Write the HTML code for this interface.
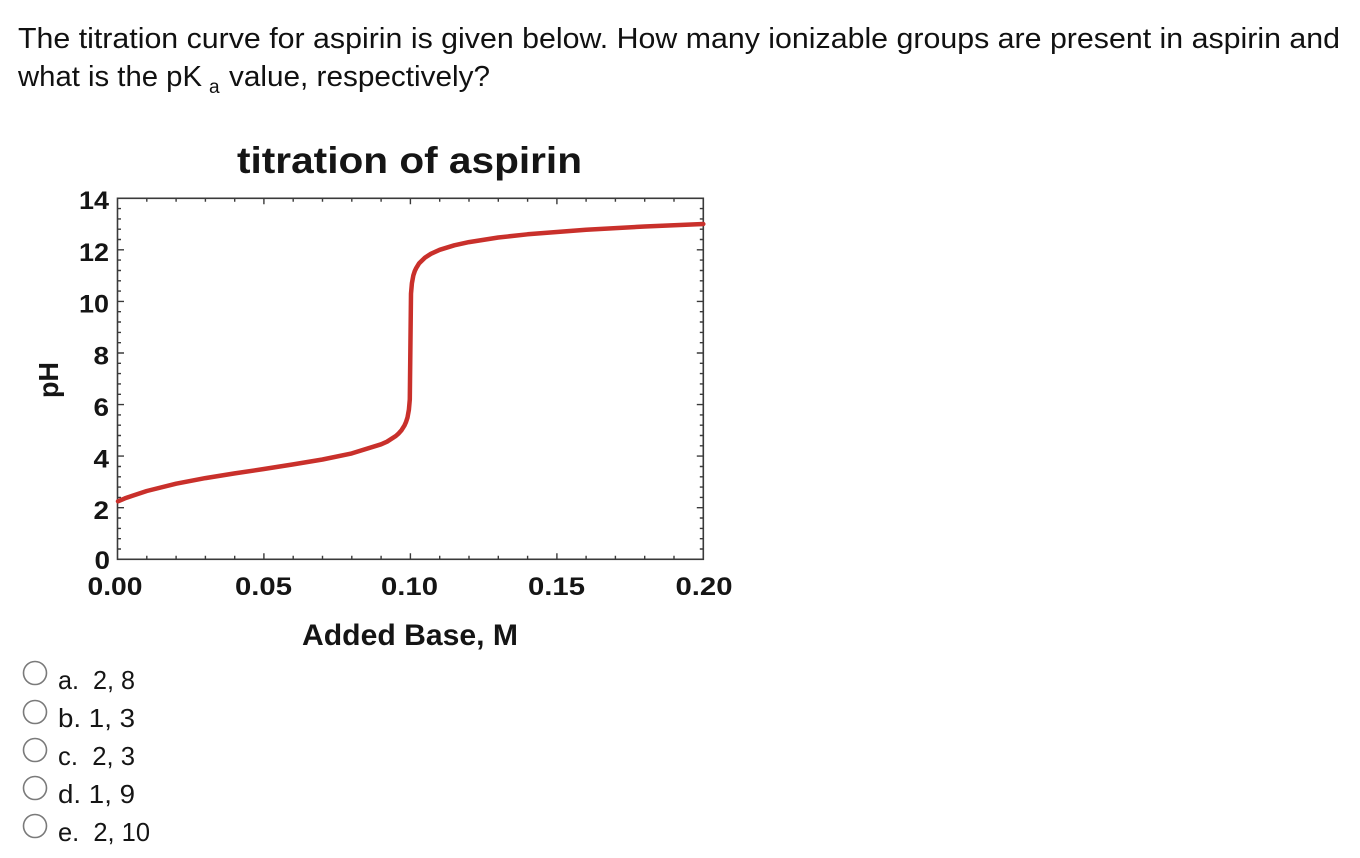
<!DOCTYPE html>
<html>
<head>
<meta charset="utf-8">
<style>
  html, body { margin:0; padding:0; background:#ffffff; }
  body { width:1360px; height:858px; overflow:hidden; }
  svg { display:block; }
</style>
</head>
<body>
<svg width="1360" height="858" viewBox="0 0 1360 858" xmlns="http://www.w3.org/2000/svg">
  <rect x="0" y="0" width="1360" height="858" fill="#ffffff"/>

  <!-- Question text -->
  <g font-family="'Liberation Sans', sans-serif" fill="#111">
    <text x="18" y="48" font-size="29" textLength="1322" lengthAdjust="spacingAndGlyphs">The titration curve for aspirin is given below. How many ionizable groups are present in aspirin and</text>
    <text x="18" y="86" font-size="29" textLength="184" lengthAdjust="spacingAndGlyphs">what is the pK</text>
    <text x="209" y="93" font-size="19">a</text>
    <text x="229" y="86" font-size="29" textLength="261" lengthAdjust="spacingAndGlyphs">value, respectively?</text>
  </g>

  <!-- Chart title -->
  <text x="237" y="173" font-family="'Liberation Sans', sans-serif" font-weight="bold" font-size="37" fill="#151515" textLength="345" lengthAdjust="spacingAndGlyphs">titration of aspirin</text>

  <!-- Frame -->
  <rect x="117.5" y="198.3" width="585.8" height="361" fill="none" stroke="#3a3a3a" stroke-width="1.6"/>

  <!-- Ticks -->
  <g stroke="#3a3a3a" stroke-width="1.4" fill="none">
    <path d="M263.9 559.3v-6M410.4 559.3v-6M556.9 559.3v-6"/>
    <path d="M146.8 559.3v-3.5M176.1 559.3v-3.5M205.4 559.3v-3.5M234.7 559.3v-3.5M293.2 559.3v-3.5M322.5 559.3v-3.5M351.8 559.3v-3.5M381.1 559.3v-3.5M439.7 559.3v-3.5M469.0 559.3v-3.5M498.3 559.3v-3.5M527.6 559.3v-3.5M586.1 559.3v-3.5M615.4 559.3v-3.5M644.7 559.3v-3.5M674.0 559.3v-3.5"/>
    <path d="M263.9 198.3v6M410.4 198.3v6M556.9 198.3v6"/>
    <path d="M146.8 198.3v3.5M176.1 198.3v3.5M205.4 198.3v3.5M234.7 198.3v3.5M293.2 198.3v3.5M322.5 198.3v3.5M351.8 198.3v3.5M381.1 198.3v3.5M439.7 198.3v3.5M469.0 198.3v3.5M498.3 198.3v3.5M527.6 198.3v3.5M586.1 198.3v3.5M615.4 198.3v3.5M644.7 198.3v3.5M674.0 198.3v3.5"/>
    <path d="M117.5 507.7h6.5M117.5 456.1h6.5M117.5 404.6h6.5M117.5 353.0h6.5M117.5 301.4h6.5M117.5 249.8h6.5"/>
    <path d="M117.5 549.0h3.5M117.5 538.7h3.5M117.5 528.4h3.5M117.5 518.0h3.5M117.5 497.4h3.5M117.5 487.1h3.5M117.5 476.8h3.5M117.5 466.5h3.5M117.5 445.8h3.5M117.5 435.5h3.5M117.5 425.2h3.5M117.5 414.9h3.5M117.5 394.3h3.5M117.5 383.9h3.5M117.5 373.6h3.5M117.5 363.3h3.5M117.5 342.7h3.5M117.5 332.4h3.5M117.5 322.0h3.5M117.5 311.7h3.5M117.5 291.1h3.5M117.5 280.8h3.5M117.5 270.5h3.5M117.5 260.1h3.5M117.5 239.5h3.5M117.5 229.2h3.5M117.5 218.9h3.5M117.5 208.6h3.5"/>
    <path d="M703.3 507.7h-6.5M703.3 456.1h-6.5M703.3 404.6h-6.5M703.3 353.0h-6.5M703.3 301.4h-6.5M703.3 249.8h-6.5"/>
    <path d="M703.3 549.0h-3.5M703.3 538.7h-3.5M703.3 528.4h-3.5M703.3 518.0h-3.5M703.3 497.4h-3.5M703.3 487.1h-3.5M703.3 476.8h-3.5M703.3 466.5h-3.5M703.3 445.8h-3.5M703.3 435.5h-3.5M703.3 425.2h-3.5M703.3 414.9h-3.5M703.3 394.3h-3.5M703.3 383.9h-3.5M703.3 373.6h-3.5M703.3 363.3h-3.5M703.3 342.7h-3.5M703.3 332.4h-3.5M703.3 322.0h-3.5M703.3 311.7h-3.5M703.3 291.1h-3.5M703.3 280.8h-3.5M703.3 270.5h-3.5M703.3 260.1h-3.5M703.3 239.5h-3.5M703.3 229.2h-3.5M703.3 218.9h-3.5M703.3 208.6h-3.5"/>
  </g>

  <!-- Curve -->
  <polyline fill="none" stroke="#c9302b" stroke-width="4.5" stroke-linejoin="round" stroke-linecap="round"
    points="118,501.3 124.8,498.4 132.1,495.9 146.8,491.0 176.1,483.7 205.4,478.1 234.7,473.4 263.9,469.0 293.2,464.4 322.5,459.5 351.8,453.4 381.1,444.3 387.0,441.7 395.8,436.0 398.7,433.4 401.6,430.1 404.5,425.4 406.0,422.1 407.5,417.5 408.9,409.7 409.8,399.4 410.4,346.5 411.0,293.7 411.9,283.3 413.3,275.6 414.8,271.0 416.3,267.9 419.2,263.2 425.0,257.6 430.9,253.8 439.7,249.8 454.3,245.3 469.0,242.1 498.3,237.5 527.6,234.3 586.1,229.7 644.7,226.5 703.3,224.0"/>

  <!-- Y tick labels -->
  <g font-family="'Liberation Sans', sans-serif" font-weight="bold" font-size="25" fill="#151515" text-anchor="end">
    <text x="109" y="209" textLength="30" lengthAdjust="spacingAndGlyphs">14</text>
    <text x="109" y="261" textLength="30" lengthAdjust="spacingAndGlyphs">12</text>
    <text x="109" y="312.5" textLength="30" lengthAdjust="spacingAndGlyphs">10</text>
    <text x="109" y="364.5" textLength="15.5" lengthAdjust="spacingAndGlyphs">8</text>
    <text x="109" y="416" textLength="15.5" lengthAdjust="spacingAndGlyphs">6</text>
    <text x="109" y="467.5" textLength="15.5" lengthAdjust="spacingAndGlyphs">4</text>
    <text x="109" y="519" textLength="15.5" lengthAdjust="spacingAndGlyphs">2</text>
    <text x="110" y="569" textLength="15.5" lengthAdjust="spacingAndGlyphs">0</text>
  </g>

  <!-- X tick labels -->
  <g font-family="'Liberation Sans', sans-serif" font-weight="bold" font-size="25" fill="#151515" text-anchor="middle">
    <text x="115" y="595" textLength="55" lengthAdjust="spacingAndGlyphs">0.00</text>
    <text x="263.5" y="595" textLength="57" lengthAdjust="spacingAndGlyphs">0.05</text>
    <text x="409.5" y="595" textLength="57" lengthAdjust="spacingAndGlyphs">0.10</text>
    <text x="556.5" y="595" textLength="57" lengthAdjust="spacingAndGlyphs">0.15</text>
    <text x="704" y="595" textLength="57" lengthAdjust="spacingAndGlyphs">0.20</text>
  </g>

  <!-- Axis titles -->
  <text x="302" y="645" font-family="'Liberation Sans', sans-serif" font-weight="bold" font-size="30" fill="#151515" textLength="216" lengthAdjust="spacingAndGlyphs">Added Base, M</text>
  <text transform="translate(58,380) rotate(-90)" x="0" y="0" text-anchor="middle" font-family="'Liberation Sans', sans-serif" font-weight="bold" font-size="28" fill="#151515" textLength="36" lengthAdjust="spacingAndGlyphs">pH</text>

  <!-- Options -->
  <g fill="#ffffff" stroke="#7a7a7a" stroke-width="1.6">
    <circle cx="35" cy="673" r="11.5"/>
    <circle cx="35" cy="712" r="11.5"/>
    <circle cx="35" cy="750" r="11.5"/>
    <circle cx="35" cy="788" r="11.5"/>
    <circle cx="35" cy="826" r="11.5"/>
  </g>
  <g font-family="'Liberation Sans', sans-serif" font-size="26" fill="#151515">
    <text x="58" y="689" textLength="77" lengthAdjust="spacingAndGlyphs">a.&#160; 2, 8</text>
    <text x="58" y="727" textLength="77" lengthAdjust="spacingAndGlyphs">b. 1, 3</text>
    <text x="58" y="765" textLength="77" lengthAdjust="spacingAndGlyphs">c.&#160; 2, 3</text>
    <text x="58" y="803" textLength="77" lengthAdjust="spacingAndGlyphs">d. 1, 9</text>
    <text x="58" y="841" textLength="92" lengthAdjust="spacingAndGlyphs">e.&#160; 2, 10</text>
  </g>
</svg>
</body>
</html>
